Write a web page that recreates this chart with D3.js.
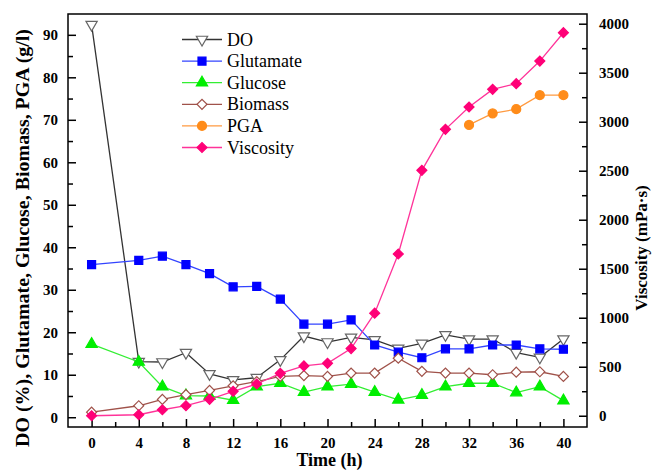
<!DOCTYPE html>
<html>
<head>
<meta charset="utf-8">
<script src="https://cdn.jsdelivr.net/npm/d3@7"></script>
<style>
  body { margin: 0; background: #fff; }
</style>
</head>
<body>
<svg id="chart" width="656" height="472"></svg>
<script>
// dados
const times = [0, 4, 6, 8, 10, 12, 14, 16, 18, 20, 22, 24, 26, 28, 30, 32, 34, 36, 38, 40];
const doVals = [92.4, 13.1, 13.0, 15.2, 10.2, 8.8, 9.3, 13.5, 19.1, 17.7, 18.8, 18.2, 16.2, 17.4, 19.4, 18.4, 18.4, 15.2, 14.1, 18.4];
const glutamate = [35.9, 36.9, 37.9, 35.9, 33.8, 30.7, 30.8, 27.8, 21.9, 21.9, 22.9, 17.0, 15.3, 14.0, 16.1, 16.1, 17.0, 17.0, 16.1, 16.0];
const glucose = [17.2, 13.0, 7.2, 5.1, 5.0, 4.0, 7.2, 8.0, 5.9, 7.2, 7.8, 5.9, 4.1, 5.2, 7.2, 8.0, 8.0, 5.8, 7.2, 3.9];
const biomass = [1.2, 2.7, 4.2, 5.3, 6.3, 7.4, 8.4, 9.6, 9.8, 9.6, 10.4, 10.4, 13.9, 10.8, 10.4, 10.4, 10.0, 10.6, 10.7, 9.6];
const pgaTimes = [32, 34, 36, 38, 40];
const pga = [68.8, 71.5, 72.5, 75.8, 75.8];
const viscosity = [0, 10, 61, 102, 167, 249, 324, 433, 508, 535, 685, 1046, 1650, 2504, 2922, 3150, 3330, 3388, 3619, 3908];

const xTicks = [0, 4, 8, 12, 16, 20, 24, 28, 32, 36, 40];
const leftTicks = [0, 10, 20, 30, 40, 50, 60, 70, 80, 90];
const rightTicks = [0, 500, 1000, 1500, 2000, 2500, 3000, 3500, 4000];

const FONT = "'Liberation Serif', 'DejaVu Serif', serif";
const svg = d3.select("#chart").attr("font-family", FONT);
const L = 68, R = 587, T = 14, B = 427;

const x = d3.scaleLinear().domain([-2, 42]).range([L, R]);
const yL = d3.scaleLinear().domain([-2.3, 94.9]).range([B, T]);
const yR = d3.scaleLinear().domain([-115, 4099]).range([B, T]);

// eixos (ticks para dentro)
function styleAxis(g) {
  g.attr("font-family", FONT);
  g.select(".domain").remove();
  g.selectAll("line").attr("stroke", "#000").attr("stroke-width", 1.5);
  g.selectAll("text").attr("font-family", FONT).attr("font-size", 15)
    .attr("font-weight", "bold").attr("fill", "#000");
}

svg.append("g").attr("transform", `translate(0,${B})`)
  .call(d3.axisBottom(x).tickValues(d3.range(2, 42, 4)).tickSize(-5).tickFormat(""))
  .call(styleAxis);
svg.append("g").attr("transform", `translate(0,${B})`)
  .call(d3.axisBottom(x).tickValues(xTicks).tickSize(-8).tickPadding(10))
  .call(styleAxis);

svg.append("g").attr("transform", `translate(${L},0)`)
  .call(d3.axisLeft(yL).tickValues(d3.range(5, 95, 10)).tickSize(-5).tickFormat(""))
  .call(styleAxis);
svg.append("g").attr("transform", `translate(${L},0)`)
  .call(d3.axisLeft(yL).tickValues(leftTicks).tickSize(-8).tickPadding(10))
  .call(styleAxis);

svg.append("g").attr("transform", `translate(${R},0)`)
  .call(d3.axisRight(yR).tickValues(d3.range(250, 4000, 500)).tickSize(-5).tickFormat(""))
  .call(styleAxis);
svg.append("g").attr("transform", `translate(${R},0)`)
  .call(d3.axisRight(yR).tickValues(rightTicks).tickSize(-8).tickPadding(12).tickFormat(d3.format("d")))
  .call(styleAxis);

svg.append("rect").attr("x", L).attr("y", T).attr("width", R - L).attr("height", B - T)
  .attr("fill", "none").attr("stroke", "#000").attr("stroke-width", 1.5);

// títulos
svg.append("text").attr("x", (L + R) / 2 + 2).attr("y", 466).attr("text-anchor", "middle")
  .attr("font-size", 18).attr("font-weight", "bold").text("Time (h)");
svg.append("text").attr("transform", "translate(29,238) rotate(-90)").attr("text-anchor", "middle")
  .attr("font-size", 18).attr("font-weight", "bold")
  .attr("textLength", 418).attr("lengthAdjust", "spacingAndGlyphs")
  .text("DO (%), Glutamate, Glucose, Biomass, PGA (g/l)");
svg.append("text").attr("transform", "translate(647,248) rotate(-90)").attr("text-anchor", "middle")
  .attr("font-size", 17).attr("font-weight", "bold").text("Viscosity (mPa·s)");

// símbolos
const sym = {
  tri: d3.symbol().type(d3.symbolTriangle).size(55),
  sq: d3.symbol().type(d3.symbolSquare).size(64),
  dia: d3.symbol().type(d3.symbolSquare).size(50),
  circ: d3.symbol().type(d3.symbolCircle).size(64)
};

const series = [
  { name: "DO", xs: times, ys: doVals, sc: yL, line: "#333", sym: "tri", rot: 180, fill: "#fff", stroke: "#666" },
  { name: "Glutamate", xs: times, ys: glutamate, sc: yL, line: "#3344ff", sym: "sq", rot: 0, fill: "#0000ff", stroke: "#0000ff" },
  { name: "Glucose", xs: times, ys: glucose, sc: yL, line: "#33ee33", sym: "tri", rot: 0, fill: "#00ee00", stroke: "#00ee00" },
  { name: "Biomass", xs: times, ys: biomass, sc: yL, line: "#a0524a", sym: "dia", rot: 45, fill: "#fff", stroke: "#a0524a" },
  { name: "PGA", xs: pgaTimes, ys: pga, sc: yL, line: "#ff9a40", sym: "circ", rot: 0, fill: "#ff8c1a", stroke: "#ff8c1a" },
  { name: "Viscosity", xs: times, ys: viscosity, sc: yR, line: "#ff3399", sym: "dia", rot: 45, fill: "#ff0077", stroke: "#ff0077" }
];

series.forEach(s => {
  const pts = s.xs.map((t, i) => [t, s.ys[i]]);
  svg.append("path").datum(pts)
    .attr("fill", "none").attr("stroke", s.line).attr("stroke-width", 1.3)
    .attr("d", d3.line().x(d => x(d[0])).y(d => s.sc(d[1])));
  svg.append("g").selectAll("path").data(pts).join("path")
    .attr("transform", d => `translate(${x(d[0])},${s.sc(d[1])}) rotate(${s.rot})`)
    .attr("d", sym[s.sym]())
    .attr("fill", s.fill).attr("stroke", s.stroke).attr("stroke-width", 1.2);
});

// legenda
const leg = svg.append("g").attr("font-family", FONT);
series.forEach((s, i) => {
  const yy = 39.5 + i * 21.6;
  leg.append("line").attr("x1", 182).attr("x2", 222).attr("y1", yy).attr("y2", yy)
    .attr("stroke", s.line).attr("stroke-width", 1.3);
  leg.append("path").attr("transform", `translate(202,${yy}) rotate(${s.rot})`)
    .attr("d", sym[s.sym]())
    .attr("fill", s.fill).attr("stroke", s.stroke).attr("stroke-width", 1.2);
  leg.append("text").attr("x", 227).attr("y", yy + 6).attr("font-size", 18)
    .attr("font-family", FONT).text(s.name);
});
</script>
</body>
</html>
